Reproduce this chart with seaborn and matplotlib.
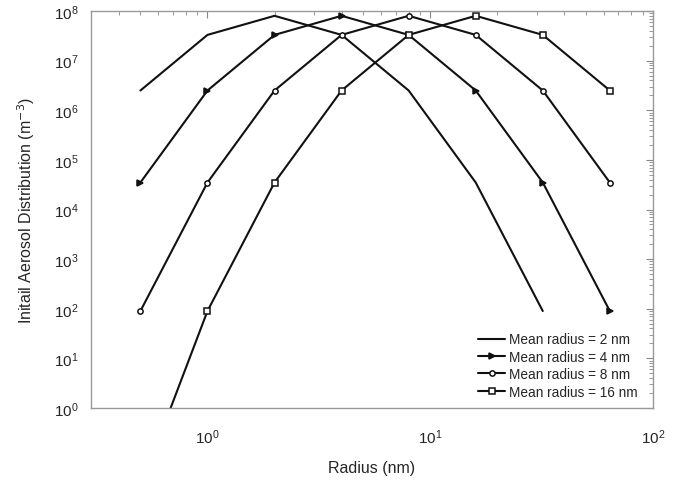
import numpy as np
import pandas as pd
import matplotlib
matplotlib.use("Agg")
import matplotlib.pyplot as plt
import seaborn as sns
from matplotlib.ticker import LogLocator, NullFormatter

# Data
radius = [0.5, 1, 2, 4, 8, 16, 32, 64]
mean_2nm = [2.5e6, 3.3e7, 8.0e7, 3.3e7, 2.5e6, 3.5e4, 90, np.nan]
mean_4nm = [3.5e4, 2.5e6, 3.3e7, 8.0e7, 3.3e7, 2.5e6, 3.5e4, 90]
mean_8nm = [90, 3.5e4, 2.5e6, 3.3e7, 8.0e7, 3.3e7, 2.5e6, 3.5e4]
mean_16nm = [0.025, 90, 3.5e4, 2.5e6, 3.3e7, 8.0e7, 3.3e7, 2.5e6]
labels = ["Mean radius = 2 nm", "Mean radius = 4 nm",
          "Mean radius = 8 nm", "Mean radius = 16 nm"]

sns.set_theme(style="white")
plt.rcParams['font.family'] = ['Liberation Sans', 'DejaVu Sans']

fig = plt.figure(figsize=(6.9, 4.81), dpi=100)
ax = fig.add_axes([91/690, 1-409/481, (653-91)/690, (409-12)/481])

series = [mean_2nm, mean_4nm, mean_8nm, mean_16nm]
markers = [None, '>', 'o', 's']
facecolors = ['#111111', '#111111', 'white', 'white']
for vals, lab, mk, fc in zip(series, labels, markers, facecolors):
    df = pd.DataFrame({"r": radius, "v": vals}).dropna()
    kw = {}
    if mk is not None:
        kw = dict(marker=mk, markersize=3.8, markerfacecolor=fc,
                  markeredgecolor='#111111', markeredgewidth=1.1)
    sns.lineplot(data=df, x="r", y="v", ax=ax, color='#111111',
                 linewidth=1.5, label=lab, **kw)

ax.set_xscale('log')
ax.set_yscale('log')
ax.set_xlim(0.3, 100)
ax.set_ylim(1, 1e8)

ax.xaxis.set_major_locator(LogLocator(base=10, numticks=10))
ax.yaxis.set_major_locator(LogLocator(base=10, numticks=20))
ax.xaxis.set_minor_locator(LogLocator(base=10, subs=np.arange(2, 10), numticks=20))
ax.yaxis.set_minor_locator(LogLocator(base=10, subs=np.arange(2, 10), numticks=20))
ax.xaxis.set_minor_formatter(NullFormatter())
ax.yaxis.set_minor_formatter(NullFormatter())

ax.tick_params(which='both', direction='in', top=True, right=True,
               color='#888888', labelsize=11)
ax.tick_params(axis='x', which='both', pad=14)
ax.tick_params(axis='y', which='both', pad=9)
ax.tick_params(which='major', length=5, width=0.8)
ax.tick_params(which='minor', length=3, width=0.6)
for sp in ax.spines.values():
    sp.set_color('#999999')
    sp.set_linewidth(1.0)

ax.set_xlabel("Radius (nm)", fontsize=11.5, labelpad=10)
ax.set_ylabel("Initail Aerosol Distribution (m$^{-3}$)", fontsize=11.5, labelpad=12)

leg = ax.legend(loc='lower right', frameon=False, fontsize=9.8,
                handlelength=2.0, handletextpad=0.25, labelspacing=0.25,
                borderaxespad=0.0, bbox_to_anchor=(0.982, 0.01))

fig.savefig("out.png", dpi=100, facecolor='white')
